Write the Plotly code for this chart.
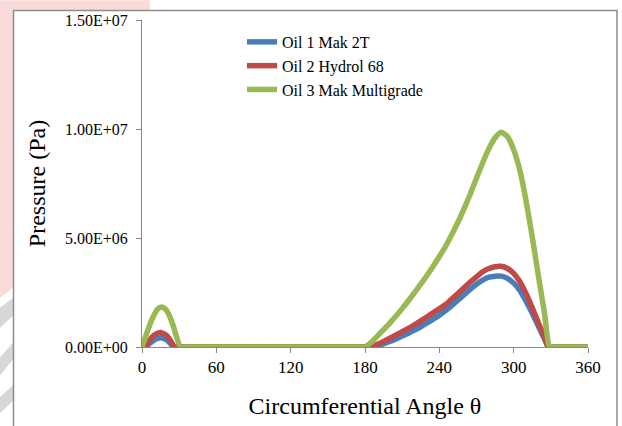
import plotly.graph_objects as go

# ---- data ----
theta_oil1 = [0, 3, 6, 10, 15, 20, 24, 26, 30, 175, 180, 185, 190, 195, 200, 205, 210, 215, 220, 225, 230,
              235, 240, 245, 250, 255, 260, 265, 270, 275, 280, 285, 290, 295, 300,
              305, 310, 315, 320, 325, 328, 333, 360]
p_oil1 = [0, 0, 0.15e6, 0.33e6, 0.42e6, 0.32e6, 0.1e6, 0, 0, 0, 0, 0, 0.05e6, 0.15e6, 0.25e6, 0.37e6, 0.5e6,
          0.63e6, 0.78e6, 0.93e6, 1.1e6, 1.28e6, 1.46e6, 1.67e6, 1.9e6, 2.15e6, 2.4e6,
          2.65e6, 2.88e6, 3.07e6, 3.2e6, 3.25e6, 3.25e6, 3.15e6, 2.93e6, 2.6e6, 2.1e6,
          1.55e6, 0.95e6, 0.35e6, 0, 0, 0]

theta_oil2 = [0, 3, 6, 10, 15, 20, 24, 26, 30, 175, 180, 185, 190, 195, 200, 205, 210, 215, 220, 225, 230,
              235, 240, 245, 250, 255, 260, 265, 270, 275, 280, 285, 290, 295, 300,
              305, 310, 315, 320, 325, 328, 333, 360]
p_oil2 = [0, 0.05e6, 0.3e6, 0.55e6, 0.66e6, 0.52e6, 0.2e6, 0, 0, 0, 0, 0, 0.12e6, 0.25e6, 0.4e6, 0.55e6, 0.7e6,
          0.85e6, 1.02e6, 1.2e6, 1.38e6, 1.57e6, 1.75e6, 1.95e6, 2.2e6, 2.45e6, 2.72e6,
          2.98e6, 3.22e6, 3.45e6, 3.6e6, 3.68e6, 3.7e6, 3.6e6, 3.38e6, 3.0e6, 2.45e6,
          1.8e6, 1.1e6, 0.45e6, 0, 0, 0]

theta_oil3 = [0, 3, 6, 10, 13, 16, 19, 22, 25, 28, 31, 35, 175, 180, 185, 190, 195, 200, 205, 210, 215, 220,
              225, 230, 235, 240, 245, 250, 255, 260, 265, 270, 275, 280, 285, 290,
              295, 300, 305, 310, 315, 320, 325, 329, 333, 360]
p_oil3 = [0, 0.5e6, 0.98e6, 1.5e6, 1.76e6, 1.84e6, 1.74e6, 1.45e6, 1.0e6, 0.45e6, 0, 0, 0, 0, 0.22e6, 0.5e6,
          0.8e6, 1.1e6, 1.42e6, 1.76e6, 2.12e6, 2.5e6, 2.88e6, 3.28e6, 3.7e6, 4.15e6,
          4.62e6, 5.15e6, 5.72e6, 6.35e6, 7.02e6, 7.75e6, 8.45e6, 9.1e6, 9.6e6, 9.85e6,
          9.65e6, 9.05e6, 8.1e6, 6.7e6, 5.05e6, 3.25e6, 1.5e6, 0, 0, 0]

series_names = ["Oil 1 Mak 2T", "Oil 2 Hydrol 68", "Oil 3 Mak Multigrade"]
series_colors = ["#4A7EBB", "#BE4B48", "#98B954"]

x_tickvals = [0, 60, 120, 180, 240, 300, 360]
y_tickvals = [0, 5e6, 1e7, 1.5e7]
y_ticktext = ["0.00E+00", "5.00E+06", "1.00E+07", "1.50E+07"]

# ---- figure ----
W, H = 622, 426
L, R, T, B = 142, 588, 20, 349.5


def px(x):
    return (x - L) / (R - L)


def py(y):
    return (B - y) / (B - T)


fig = go.Figure()
for th, p, name, col in zip([theta_oil1, theta_oil2, theta_oil3],
                            [p_oil1, p_oil2, p_oil3], series_names, series_colors):
    fig.add_trace(go.Scatter(x=th, y=p, mode="lines", name=name,
                             line=dict(color=col, width=5.5, shape="spline", smoothing=0.6),
                             legendgroup=name))

font_family = "Liberation Serif"
axis_col = "#868686"

shapes = [
    # faint watermark on the left edge
    dict(type="path", xref="paper", yref="paper", layer="below",
         path=f"M {px(0)},{py(0)} L {px(150)},{py(0)} L {px(150)},{py(10)} L {px(13)},{py(10)} "
              f"L {px(13)},{py(290)} L {px(0)},{py(300)} Z",
         fillcolor="rgba(235,90,80,0.22)", line=dict(width=0)),
    dict(type="path", xref="paper", yref="paper", layer="below",
         path=f"M {px(0)},{py(310)} L {px(13)},{py(300)} L {px(13)},{py(318)} L {px(0)},{py(330)} Z",
         fillcolor="rgba(140,140,140,0.35)", line=dict(width=0)),
    dict(type="path", xref="paper", yref="paper", layer="below",
         path=f"M {px(0)},{py(360)} L {px(13)},{py(345)} L {px(13)},{py(362)} L {px(0)},{py(378)} Z",
         fillcolor="rgba(140,140,140,0.35)", line=dict(width=0)),
    dict(type="path", xref="paper", yref="paper", layer="below",
         path=f"M {px(0)},{py(400)} L {px(13)},{py(388)} L {px(13)},{py(404)} L {px(0)},{py(416)} Z",
         fillcolor="rgba(140,140,140,0.35)", line=dict(width=0)),
    # chart area border
    dict(type="rect", xref="paper", yref="paper", layer="below",
         x0=px(13.5), x1=px(617), y0=py(440), y1=py(10.5),
         line=dict(color="#8C8C8C", width=1.5), fillcolor="white"),
]

fig.update_layout(
    width=W, height=H,
    margin=dict(l=L, r=W - R, t=T, b=H - B, pad=0),
    paper_bgcolor="white", plot_bgcolor="rgba(0,0,0,0)",
    font=dict(family=font_family, size=16, color="black"),
    showlegend=True,
    legend=dict(x=px(242), y=py(25), xanchor="left", yanchor="top",
                bgcolor="rgba(0,0,0,0)", font=dict(size=16, family=font_family),
                traceorder="grouped", tracegroupgap=0, itemwidth=30),
    shapes=shapes,
    xaxis=dict(range=[0, 360], tickvals=x_tickvals, ticks="outside", ticklen=5,
               tickcolor=axis_col, showline=True, linecolor=axis_col, linewidth=1,
               showgrid=False, zeroline=False,
               tickfont=dict(size=17, family=font_family),
               title=dict(text="Circumferential Angle θ",
                          font=dict(size=24, family=font_family), standoff=20)),
    yaxis=dict(range=[0, 1.5e7], tickvals=y_tickvals, ticktext=y_ticktext, ticks="outside",
               ticklen=5, tickcolor=axis_col, showline=True, linecolor=axis_col, linewidth=1,
               showgrid=False, zeroline=False, ticklabelstandoff=5,
               tickfont=dict(size=16, family=font_family),
               title=dict(text="Pressure (Pa)", font=dict(size=24, family=font_family),
                          standoff=12)),
)

fig.write_html("out.html", post_script="document.body.style.margin='0';",
               config={"displayModeBar": False})
